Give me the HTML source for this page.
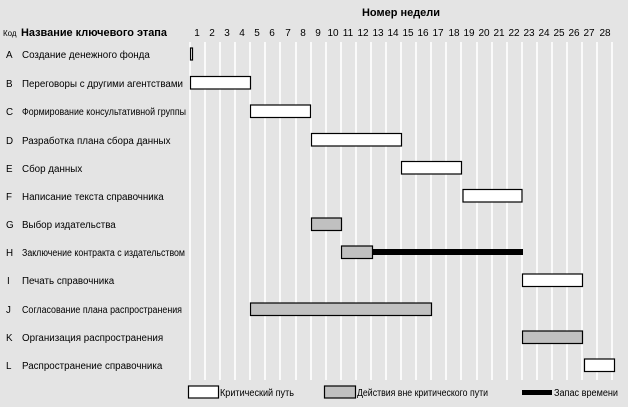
<!DOCTYPE html>
<html><head><meta charset="utf-8"><style>
body{margin:0;background:#e4e4e4;}
svg{display:block;font-family:"Liberation Sans",sans-serif;}
</style></head><body>
<svg width="628" height="407" xmlns="http://www.w3.org/2000/svg">
<rect width="628" height="407" fill="#e4e4e4"/>
<g stroke="#fff" stroke-width="1.6">
<line x1="190" y1="42" x2="190" y2="380"/><line x1="205" y1="42" x2="205" y2="380"/><line x1="220" y1="42" x2="220" y2="380"/><line x1="235" y1="42" x2="235" y2="380"/><line x1="250" y1="42" x2="250" y2="380"/><line x1="265" y1="42" x2="265" y2="380"/><line x1="280" y1="42" x2="280" y2="380"/><line x1="296" y1="42" x2="296" y2="380"/><line x1="311" y1="42" x2="311" y2="380"/><line x1="326" y1="42" x2="326" y2="380"/><line x1="341" y1="42" x2="341" y2="380"/><line x1="356" y1="42" x2="356" y2="380"/><line x1="371" y1="42" x2="371" y2="380"/><line x1="386" y1="42" x2="386" y2="380"/><line x1="401" y1="42" x2="401" y2="380"/><line x1="416" y1="42" x2="416" y2="380"/><line x1="431" y1="42" x2="431" y2="380"/><line x1="446" y1="42" x2="446" y2="380"/><line x1="461" y1="42" x2="461" y2="380"/><line x1="477" y1="42" x2="477" y2="380"/><line x1="492" y1="42" x2="492" y2="380"/><line x1="507" y1="42" x2="507" y2="380"/><line x1="522" y1="42" x2="522" y2="380"/><line x1="537" y1="42" x2="537" y2="380"/><line x1="552" y1="42" x2="552" y2="380"/><line x1="567" y1="42" x2="567" y2="380"/><line x1="582" y1="42" x2="582" y2="380"/><line x1="597" y1="42" x2="597" y2="380"/><line x1="612" y1="42" x2="612" y2="380"/>
</g>
<text x="362" y="16" font-size="11" font-weight="bold" fill="#000" textLength="78" lengthAdjust="spacingAndGlyphs">Номер недели</text>
<text x="3" y="36" font-size="8" fill="#000">Код</text>
<text x="21" y="36" font-size="11" font-weight="bold" fill="#000" textLength="146" lengthAdjust="spacingAndGlyphs">Название ключевого этапа</text>
<g font-size="10" fill="#000" text-anchor="middle">
<text x="197" y="36">1</text><text x="212" y="36">2</text><text x="227" y="36">3</text><text x="242" y="36">4</text><text x="257" y="36">5</text><text x="272" y="36">6</text><text x="288" y="36">7</text><text x="303" y="36">8</text><text x="318" y="36">9</text><text x="333" y="36">10</text><text x="348" y="36">11</text><text x="363" y="36">12</text><text x="378" y="36">13</text><text x="393" y="36">14</text><text x="408" y="36">15</text><text x="423" y="36">16</text><text x="438" y="36">17</text><text x="454" y="36">18</text><text x="469" y="36">19</text><text x="484" y="36">20</text><text x="499" y="36">21</text><text x="514" y="36">22</text><text x="529" y="36">23</text><text x="544" y="36">24</text><text x="559" y="36">25</text><text x="574" y="36">26</text><text x="589" y="36">27</text><text x="605" y="36">28</text>
</g>
<g font-size="9.8" fill="#000">
<text x="6" y="58">A</text><text x="22" y="58">Создание денежного фонда</text>
<text x="6" y="87">B</text><text x="22" y="87" textLength="161" lengthAdjust="spacingAndGlyphs">Переговоры с другими агентствами</text>
<text x="6" y="115">C</text><text x="22" y="115" textLength="164" lengthAdjust="spacingAndGlyphs">Формирование консультативной группы</text>
<text x="6" y="144">D</text><text x="22" y="144">Разработка плана сбора данных</text>
<text x="6" y="172">E</text><text x="22" y="172">Сбор данных</text>
<text x="6" y="200">F</text><text x="22" y="200">Написание текста справочника</text>
<text x="6" y="228">G</text><text x="22" y="228">Выбор издательства</text>
<text x="6" y="256">H</text><text x="22" y="256" textLength="163" lengthAdjust="spacingAndGlyphs">Заключение контракта с издательством</text>
<text x="7" y="284">I</text><text x="22" y="284">Печать справочника</text>
<text x="6" y="313">J</text><text x="22" y="313" textLength="160" lengthAdjust="spacingAndGlyphs">Согласование плана распространения</text>
<text x="6" y="341">K</text><text x="22" y="341">Организация распространения</text>
<text x="6" y="369">L</text><text x="22" y="369">Распространение справочника</text>
</g>
<g stroke="#000" stroke-width="1.2">
<rect x="190.5" y="48" width="2" height="12" fill="#fff"/>
<rect x="190.5" y="76.5" width="60" height="12.5" fill="#fff"/>
<rect x="250.5" y="105" width="60" height="12.5" fill="#fff"/>
<rect x="311.5" y="133.5" width="90" height="12.5" fill="#fff"/>
<rect x="401.5" y="161.5" width="60" height="12.5" fill="#fff"/>
<rect x="463" y="189.5" width="59" height="12.5" fill="#fff"/>
<rect x="311.5" y="218" width="30" height="12.5" fill="#c0c0c0"/>
<rect x="341.5" y="246" width="31" height="12.5" fill="#c0c0c0"/>
<rect x="522.5" y="274" width="60" height="12.5" fill="#fff"/>
<rect x="250.5" y="303" width="181" height="12.5" fill="#c0c0c0"/>
<rect x="522.5" y="331" width="60" height="12.5" fill="#c0c0c0"/>
<rect x="584.5" y="359" width="30" height="12.5" fill="#fff"/>
<rect x="188.5" y="386" width="30" height="12" fill="#fff"/>
<rect x="324.5" y="386" width="31" height="12" fill="#c0c0c0"/>
</g>
<rect x="373" y="249" width="150" height="6" fill="#000"/>
<rect x="522" y="390" width="30" height="5" fill="#000"/>
<g font-size="9.8" fill="#000">
<text x="220" y="396" textLength="74" lengthAdjust="spacingAndGlyphs">Критический путь</text>
<text x="357" y="396" textLength="131" lengthAdjust="spacingAndGlyphs">Действия вне критического пути</text>
<text x="554" y="396" textLength="64" lengthAdjust="spacingAndGlyphs">Запас времени</text>
</g>
</svg>
</body></html>
